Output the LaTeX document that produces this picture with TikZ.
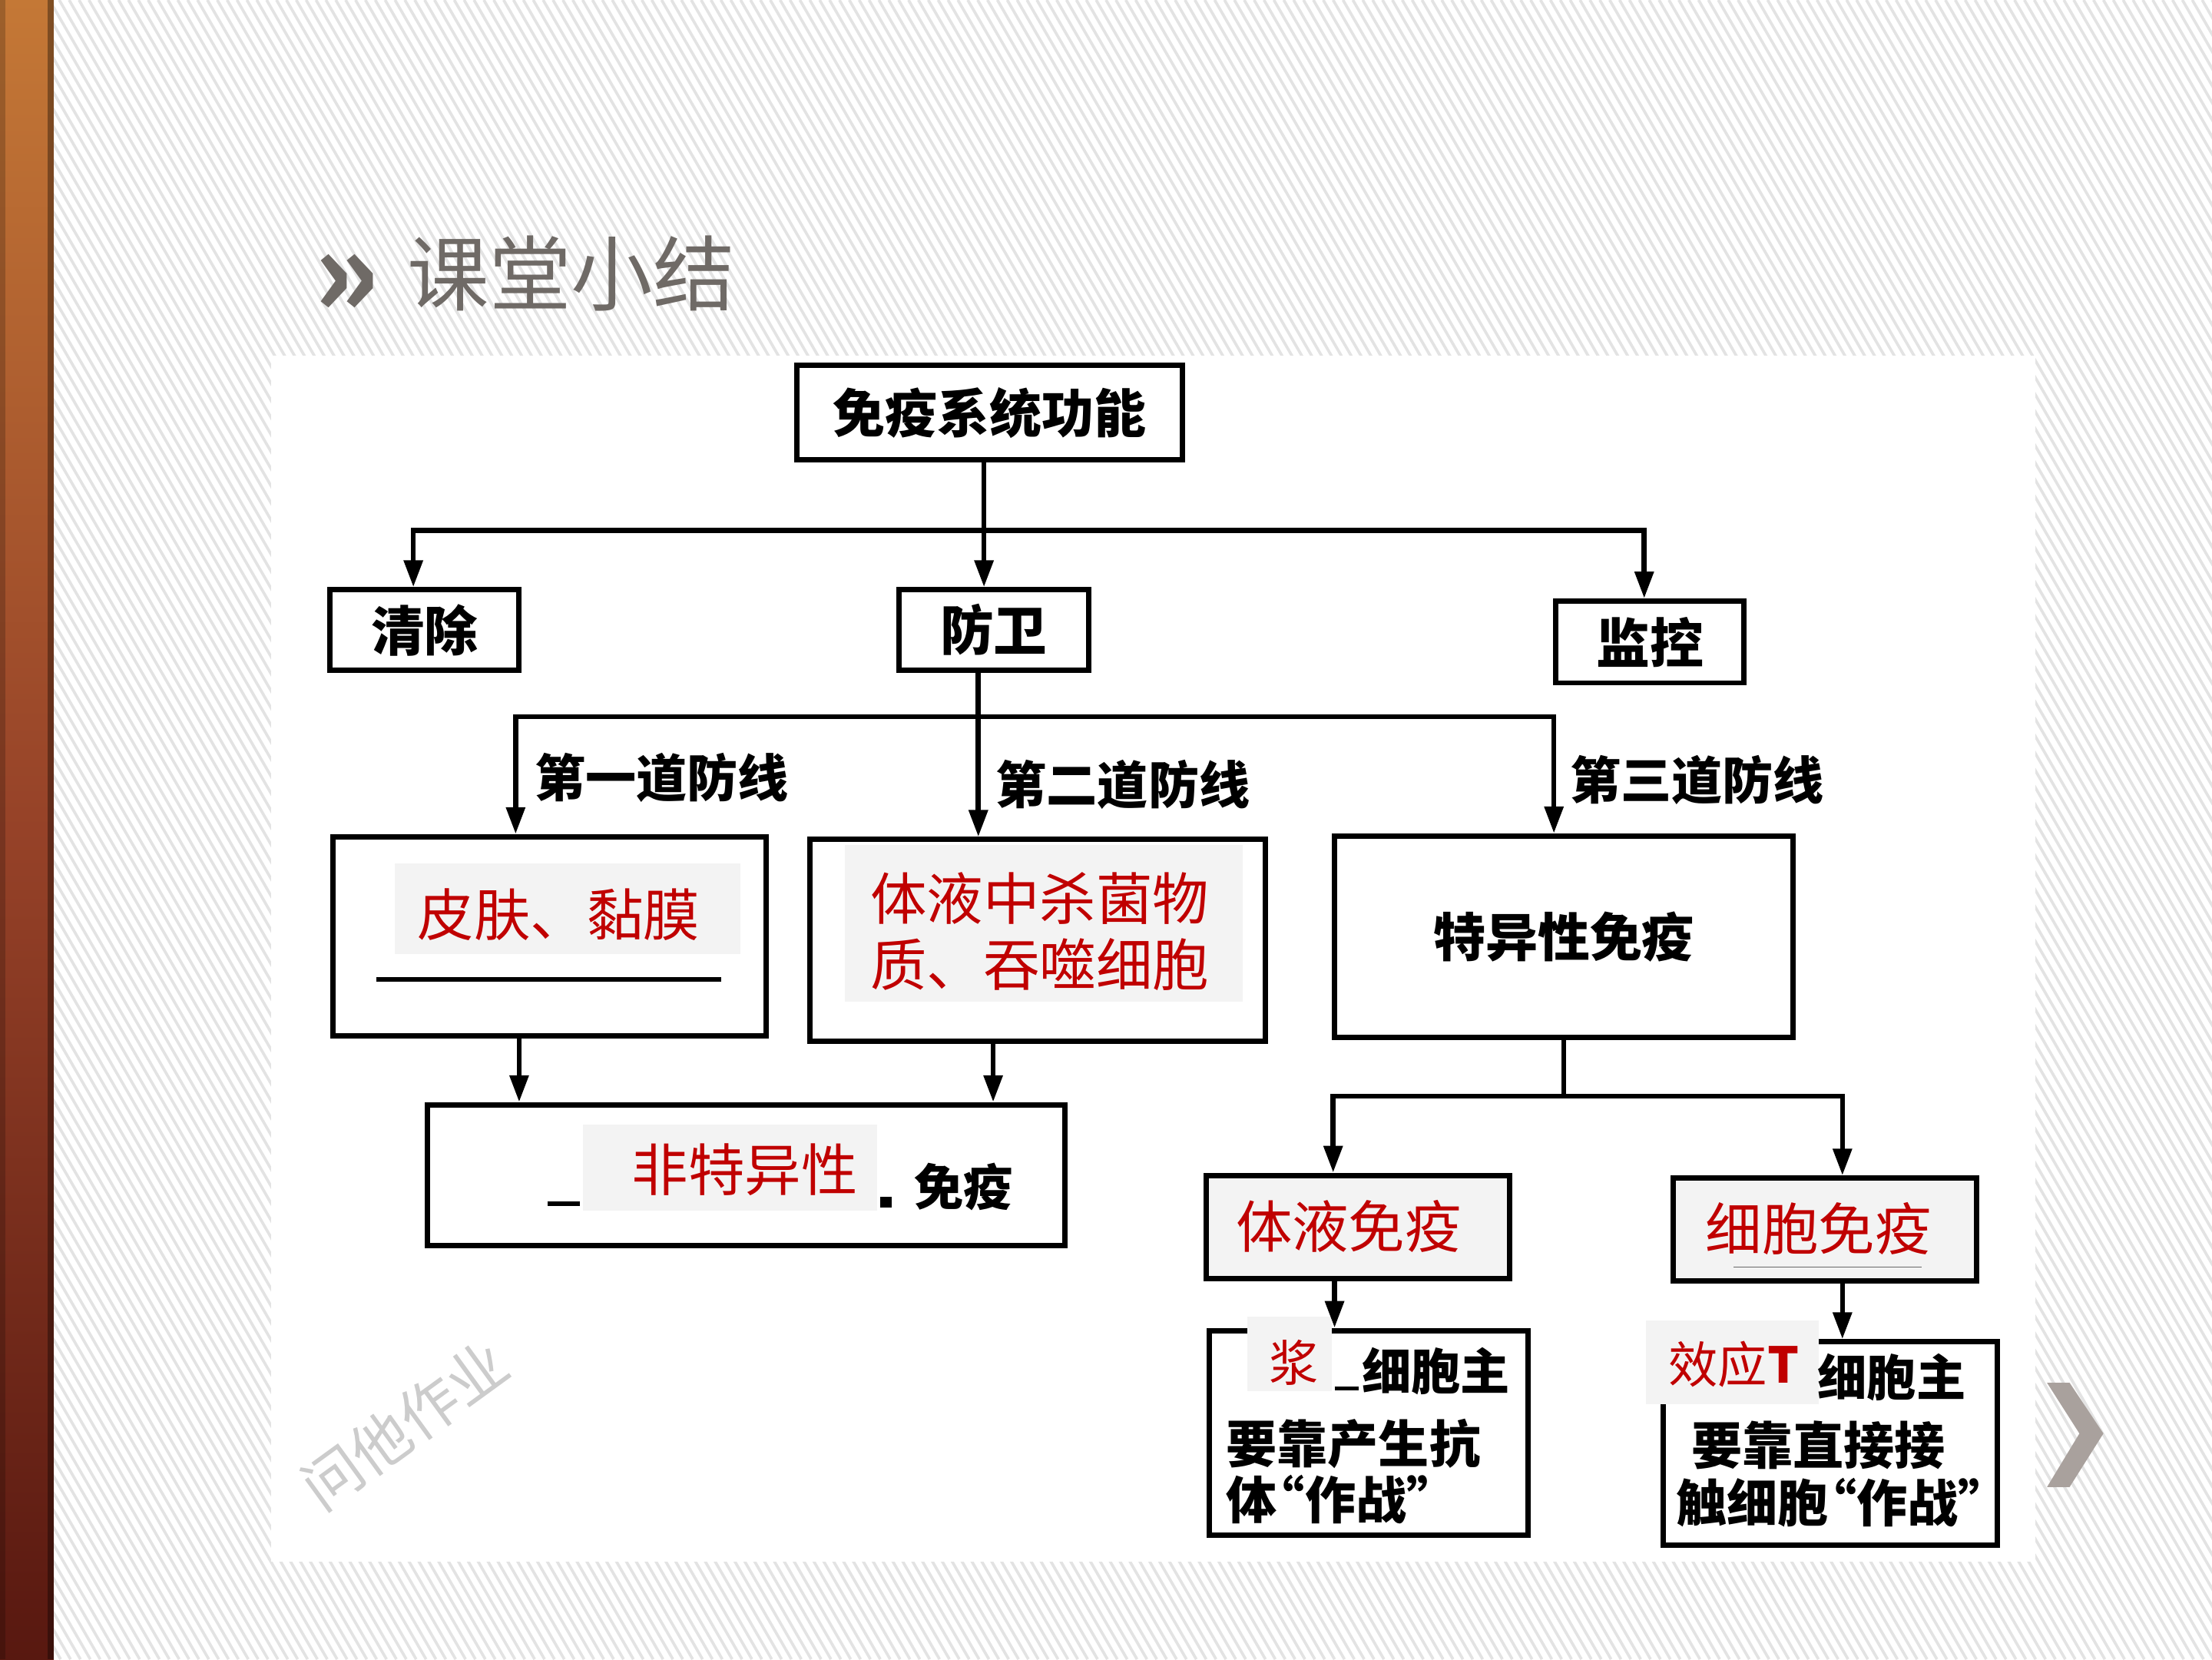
\documentclass[tikz,border=0pt]{standalone}
\usepackage{fontspec}
\newfontfamily\cjk{Noto Sans CJK SC}
\usetikzlibrary{arrows.meta,positioning}
\definecolor{ansred}{HTML}{C00000}
\definecolor{patchgray}{HTML}{F3F3F3}
\definecolor{titlegray}{HTML}{6F6A66}
\definecolor{chevgray}{HTML}{A9A19D}
\definecolor{stripegray}{HTML}{E3E3E3}
\newcommand\lquo{\makebox[0.55em][r]{“}}
\newcommand\rquo{\makebox[0.55em][l]{”}}

\begin{document}
\begin{tikzpicture}[x=1pt,y=-1pt,
    box/.style={draw,line width=3.8,inner sep=0pt},
    patch/.style={fill=patchgray},
    link/.style={line width=3.6},
    arr/.style={line width=3.6,-{Triangle[length=19pt,width=13pt]}},
    lbl/.style={font=\cjk\bfseries\fontsize{#1}{#1}\selectfont,inner sep=0pt},
    lbl/.default=37,
    ans/.style={text=ansred,font=\cjk\fontsize{#1}{47}\selectfont,inner sep=0pt},
    ans/.default=40]
  \useasboundingbox (0,0) rectangle (1568,1176);
  % slide background
  \fill[white] (0,0) rectangle (1568,1176);
  \begin{scope}
    \clip (38,0) rectangle (1568,1176);
    \foreach \i in {-700,-693,...,1568} \draw[stripegray,line width=2] (\i,0) -- ++(680,1176);
  \end{scope}
  \shade[top color={rgb,255:red,196;green,120;blue,54},bottom color={rgb,255:red,88;green,24;blue,16},
         middle color={rgb,255:red,150;green,66;blue,40}] (0,0) rectangle (38,1176);
  \fill[black,opacity=0.35] (34,0) rectangle (38,1176);
  \fill[black,opacity=0.2] (0,0) rectangle (4,1176);
  \fill[white] (192,252) rectangle (1443,1107);
  \node[font=\cjk\bfseries\fontsize{84}{84}\selectfont,text=titlegray] (mark) at (246,202) {»};
  \node[font=\cjk\fontsize{58}{60}\selectfont,text=titlegray] (title) at (405,194) {课堂小结};
  \node[font=\cjk\fontsize{42}{42}\selectfont,text=black!20,rotate=36] (wmark) at (287,1010) {问他作业};

  % first level
  \node[box,lbl,minimum width=273,minimum height=67] (sys) at (701.5,292.5) {免疫系统功能};
  \node[box,lbl=38,minimum width=134,minimum height=57] (clr) at (301,446.5) {清除};
  \node[box,lbl=38,minimum width=135,minimum height=57] (def) at (704.5,446.5) {防卫};
  \node[box,lbl=38,minimum width=133,minimum height=58] (mon) at (1169.5,455) {监控};
  \coordinate (b1) at (697.5,376);
  \draw[link] (b1 |- sys.south) -- (b1);
  \draw[arr] (b1) -- (b1 |- def.north);
  \draw[arr] (b1) -| ([xshift=-8]clr.north);
  \draw[arr] (b1) -| ([xshift=-4]mon.north);

  % three lines of defence
  \node[box,minimum width=307,minimum height=141] (skin) at (389.5,663.5) {};
  \fill[patch] (280,612) rectangle (525,676);
  \node[ans] (skinT) at (396,648) {皮肤、黏膜};
  \draw[line width=3.5] (267,694) -- (511,694);
  \node[box,minimum width=323,minimum height=143] (fluid) at (735.5,666.5) {};
  \fill[patch] (599,599) rectangle (881,710);
  \node[ans,align=center] (fluidT) at (737,660) {体液中杀菌物\\质、吞噬细胞};
  \node[box,lbl,minimum width=325,minimum height=143] (spec) at (1108.5,664) {特异性免疫};
  \coordinate (b2) at (693.5,508);
  \draw[link] ([xshift=-11]def.south) -- (b2);
  \draw[arr] (b2) -| ([xshift=-24]skin.north);
  \draw[arr] (b2) -- (b2 |- fluid.north);
  \draw[arr] (b2) -| ([xshift=-7]spec.north);
  \node[lbl=36] (l1) at (469,551) {第一道防线};
  \node[lbl=36] (l2) at (796,556) {第二道防线};
  \node[lbl=36] (l3) at (1203,553) {第三道防线};

  % non-specific
  \node[box,minimum width=452,minimum height=100] (nons) at (529,833) {};
  \draw[line width=3] (388,853) -- (411,853);
  \fill[patch] (413,797) rectangle (622,858);
  \node[ans] (nonsT) at (528,829) {非特异性};
  \fill (624,848) rectangle (632,856);
  \node[lbl=35] (nonsI) at (683,841) {免疫};
  \draw[arr] ([xshift=-21.5]skin.south) -- ([xshift=-21.5]skin.south |- nons.north);
  \draw[arr] ([xshift=-31.5]fluid.south) -- ([xshift=-31.5]fluid.south |- nons.north);

  % specific
  \node[box,fill=patchgray,minimum width=215,minimum height=73] (humo) at (962.5,869.5) {};
  \node[ans] (humoT) at (956,869) {体液免疫};
  \node[box,fill=patchgray,minimum width=215,minimum height=73] (cell) at (1293.5,871.5) {};
  \node[ans] (cellT) at (1289,871) {细胞免疫};
  \draw[line width=1,black!60] (1229,898) -- (1362,898);
  \coordinate (b3) at (1108.5,777);
  \draw[link] (spec.south) -- (b3);
  \draw[arr] (b3) -| ([xshift=-17.5]humo.north);
  \draw[arr] (b3) -| ([xshift=12.5]cell.north);

  \node[box,minimum width=226,minimum height=145] (plas) at (970,1015.5) {};
  \fill[patch] (884,933) rectangle (944,986);
  \node[ans=35] (plasA) at (917,966) {浆};
  \draw[line width=2.5] (946,984) -- (963,984);
  \node[lbl=35] (plasB) at (1018,972) {细胞主};
  \node[lbl=36,anchor=west] (plasC) at (869,1023) {要靠产生抗};
  \node[lbl=36,anchor=west] (plasD) at (869,1063) {体\lquo 作战\rquo};
  \draw[arr] ([xshift=-16.5]humo.south) -- ([xshift=-16.5]humo.south |- plas.north);

  \node[box,minimum width=237,minimum height=144] (effT) at (1297.5,1023) {};
  \fill[patch] (1167,936) rectangle (1289,995);
  \node[ans=35] (effA) at (1229,967) {效应\textbf{T}};
  \node[lbl=35] (effB) at (1341,976) {细胞主};
  \node[lbl=36] (effC) at (1289,1024) {要靠直接接};
  \node[lbl=36] (effD) at (1298,1065) {触细胞\lquo 作战\rquo};
  \draw[arr] ([xshift=12.5]cell.south) -- ([xshift=12.5]cell.south |- effT.north);

  \fill[chevgray] (1451,980) -- (1467,980) -- (1491,1016) -- (1467,1054) -- (1451,1054) -- (1474,1016) -- cycle;
\end{tikzpicture}
\end{document}
